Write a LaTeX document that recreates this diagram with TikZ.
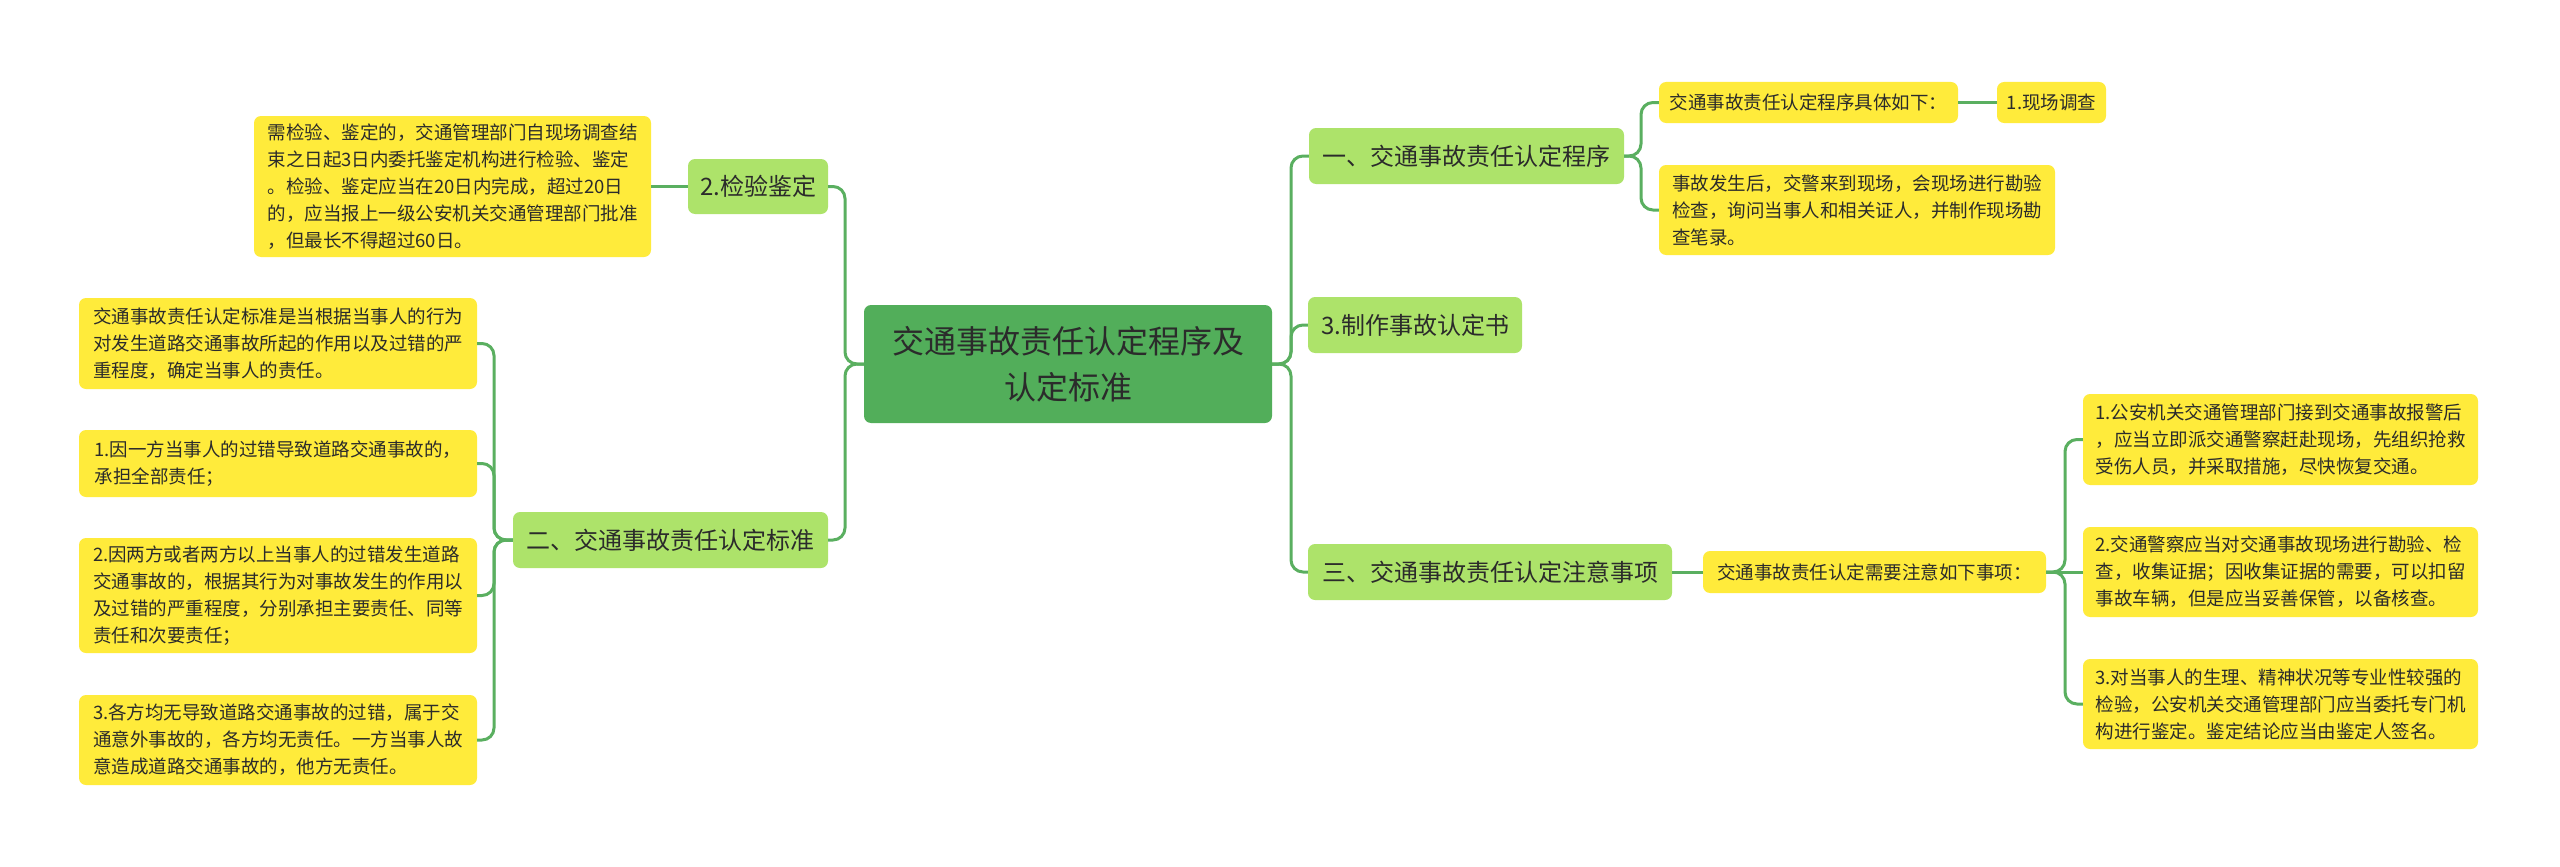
\documentclass[tikz,border=0pt]{standalone}
\usepackage{fontspec}
\setmainfont{Noto Sans CJK SC}
\definecolor{rootc}{HTML}{52AE5A}
\definecolor{lvlc}{HTML}{ADE36A}
\definecolor{leafc}{HTML}{FFEB3B}
\definecolor{linec}{HTML}{5AAF60}
\definecolor{txt}{HTML}{2B2B2B}
\tikzset{
  box/.style={rounded corners=7pt, inner sep=0pt, align=left, text=txt},
  rootbox/.style={box, fill=rootc, align=center, font=\fontsize{32}{46}\selectfont},
  lvlbox/.style={box, fill=lvlc, font=\fontsize{24}{30}\selectfont},
  leafbox/.style={box, fill=leafc, font=\fontsize{18.5}{27}\selectfont},
  conn/.style={draw=linec, line width=3pt, rounded corners=12pt},
}
\begin{document}
\begin{tikzpicture}[x=1pt,y=-1pt]
\useasboundingbox (0,0) rectangle (2560,867);
\coordinate (tL) at (845,0);
\coordinate (tR) at (1291,0);
\coordinate (tB) at (494,0);
\coordinate (tA) at (1641,0);
\coordinate (tD) at (2065,0);

\node[rootbox, minimum width=408pt, minimum height=118pt] (root) at (1068,364) {交通事故责任认定程序及\\认定标准};

% left
\node[lvlbox, minimum width=140pt, minimum height=55pt] (n2) at (758,186.5) {2.检验鉴定};
\node[leafbox, minimum width=397pt, minimum height=141pt] (n2leaf) at (452.5,186.5) {需检验、鉴定的，交通管理部门自现场调查结\\束之日起3日内委托鉴定机构进行检验、鉴定\\。检验、鉴定应当在20日内完成，超过20日\\的，应当报上一级公安机关交通管理部门批准\\，但最长不得超过60日。};
\node[lvlbox, minimum width=315pt, minimum height=56pt] (nB) at (670.5,540) {二、交通事故责任认定标准};
\node[leafbox, minimum width=398pt, minimum height=91pt] (L1) at (278,343.5) {交通事故责任认定标准是当根据当事人的行为\\对发生道路交通事故所起的作用以及过错的严\\重程度，确定当事人的责任。};
\node[leafbox, minimum width=398pt, minimum height=67pt] (L2) at (278,463.5) {1.因一方当事人的过错导致道路交通事故的，\\承担全部责任；};
\node[leafbox, minimum width=398pt, minimum height=115pt] (L3) at (278,595.5) {2.因两方或者两方以上当事人的过错发生道路\\交通事故的，根据其行为对事故发生的作用以\\及过错的严重程度，分别承担主要责任、同等\\责任和次要责任；};
\node[leafbox, minimum width=398pt, minimum height=90pt] (L4) at (278,740) {3.各方均无导致道路交通事故的过错，属于交\\通意外事故的，各方均无责任。一方当事人故\\意造成道路交通事故的，他方无责任。};

% right
\node[lvlbox, minimum width=315pt, minimum height=56pt] (nA) at (1466.5,156) {一、交通事故责任认定程序};
\node[leafbox, minimum width=299pt, minimum height=41pt] (nA1) at (1808.5,102.5) {交通事故责任认定程序具体如下：};
\node[leafbox, minimum width=109pt, minimum height=41pt] (nA1a) at (2051.5,102.5) {1.现场调查};
\node[leafbox, minimum width=396pt, minimum height=90pt] (nA2) at (1857,210) {事故发生后，交警来到现场，会现场进行勘验\\检查，询问当事人和相关证人，并制作现场勘\\查笔录。};
\node[lvlbox, minimum width=214pt, minimum height=56pt] (nC) at (1415,325) {3.制作事故认定书};
\node[lvlbox, minimum width=364pt, minimum height=56pt] (nD) at (1490,572) {三、交通事故责任认定注意事项};
\node[leafbox, minimum width=343pt, minimum height=42pt] (nD1) at (1874.5,572) {交通事故责任认定需要注意如下事项：};
\node[leafbox, minimum width=395pt, minimum height=91pt] (R1) at (2280.5,439.5) {1.公安机关交通管理部门接到交通事故报警后\\，应当立即派交通警察赶赴现场，先组织抢救\\受伤人员，并采取措施，尽快恢复交通。};
\node[leafbox, minimum width=395pt, minimum height=90pt] (R2) at (2280.5,572) {2.交通警察应当对交通事故现场进行勘验、检\\查，收集证据；因收集证据的需要，可以扣留\\事故车辆，但是应当妥善保管，以备核查。};
\node[leafbox, minimum width=395pt, minimum height=90pt] (R3) at (2280.5,704) {3.对当事人的生理、精神状况等专业性较强的\\检验，公安机关交通管理部门应当委托专门机\\构进行鉴定。鉴定结论应当由鉴定人签名。};

% connectors
\draw[conn] (root.west) -- (root.west -| tL) |- (n2.east);
\draw[conn] (root.west) -- (root.west -| tL) |- (nB.east);
\draw[conn] (n2.west) -- (n2leaf.east);
\draw[conn] (nB.west) -- (nB.west -| tB) |- (L1.east);
\draw[conn] (nB.west) -- (nB.west -| tB) |- (L2.east);
\draw[conn] (nB.west) -- (nB.west -| tB) |- (L3.east);
\draw[conn] (nB.west) -- (nB.west -| tB) |- (L4.east);
\draw[conn] (root.east) -- (root.east -| tR) |- (nA.west);
\draw[conn] (root.east) -- (root.east -| tR) |- (nC.west);
\draw[conn] (root.east) -- (root.east -| tR) |- (nD.west);
\draw[conn] (nA.east) -- (nA.east -| tA) |- (nA1.west);
\draw[conn] (nA.east) -- (nA.east -| tA) |- (nA2.west);
\draw[conn] (nA1.east) -- (nA1a.west);
\draw[conn] (nD.east) -- (nD1.west);
\draw[conn] (nD1.east) -- (nD1.east -| tD) |- (R1.west);
\draw[conn] (nD1.east) -- (R2.west);
\draw[conn] (nD1.east) -- (nD1.east -| tD) |- (R3.west);
\end{tikzpicture}
\end{document}
